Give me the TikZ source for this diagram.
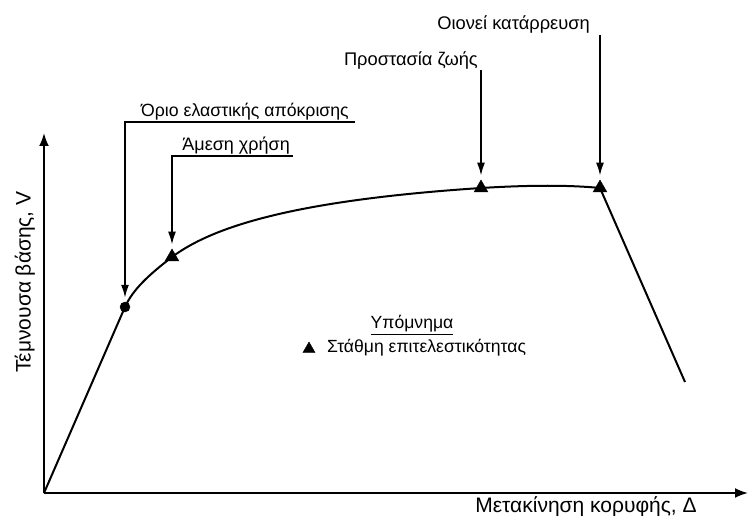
\documentclass[tikz,border=0pt]{standalone}
\usepackage{fontspec}
\setmainfont{Liberation Sans}
\usetikzlibrary{arrows.meta,shapes.geometric}

\begin{document}
\begin{tikzpicture}[x=1pt,y=-1pt]
    \tikzset{Axis/.style = {line width=2pt, -{Latex[length=13pt,width=10pt]}}}
    \tikzset{Lead/.style = {line width=1.7pt, -{Latex[length=13pt,width=8pt]}, shorten >=4pt}}
    \tikzset{Curve/.style = {line width=2pt}}
    \tikzset{Level/.style = {draw, fill, regular polygon, regular polygon sides=3, minimum size=16pt, inner sep=0pt}}
    \tikzset{Yield/.style = {draw, fill, circle, minimum size=10pt, inner sep=0pt}}
    \tikzset{Tag/.style = {inner sep=2pt, font=\fontsize{#1}{#1}\selectfont}, Tag/.default=18}
    \useasboundingbox (0,0) rectangle (748,516);
    \coordinate (O) at (44,493);
    \coordinate (ytip) at (44,133);
    \coordinate (xtip) at (748,493);
    \coordinate (drop) at (685,382);
    \node[Yield] (ey) at (125,307) {};
    \node[Level] (io) at (172,257) {};
    \node[Level] (ls) at (481,188) {};
    \node[Level] (cp) at (600,188) {};
    \draw[Axis] (O) -- (ytip);
    \draw[Axis] (O) -- (xtip);
    \draw[Curve] (O) -- (ey.center) .. controls (133,289) and (150,274) .. (io.center)
        .. controls (215,225) and (300,200) .. (ls.center)
        .. controls (530,185) and (570,185) .. (cp.center) -- (drop);
    \node[Tag=17.7, anchor=south east] (eyt) at (351,122) {Όριο ελαστικής απόκρισης};
    \node[Tag=18, anchor=south east] (iot) at (292,156) {Άμεση χρήση};
    \node[Tag=18.3, anchor=south east] (lst) at (480,71) {Προστασία ζωής};
    \node[Tag=18.3, anchor=south east] (cpt) at (592,35) {Οιονεί κατάρρευση};
    \draw[Lead] ([xshift=4pt]eyt.south east) -| (ey.north);
    \draw[Lead] ([xshift=1pt]iot.south east) -| (io.north);
    \draw[Lead] ([xshift=2pt]lst.south east) -| (ls.north);
    \draw[Lead] ([xshift=8pt]cpt.south east) -| (cp.north);
    \node[Tag=17.6] (legt) at (412,325) {\underline{Υπόμνημα}};
    \node[Level, minimum size=14pt] (legm) at (309,349) {};
    \node[Tag=17.6, anchor=west] (legs) at (325,348) {Στάθμη επιτελεστικότητας};
    \node[Tag=21, rotate=90] (ylab) at (25,282) {Τέμνουσα βάσης, V};
    \node[Tag=21] (xlab) at (586,507) {Μετακίνηση κορυφής, Δ};
\end{tikzpicture}
\end{document}
